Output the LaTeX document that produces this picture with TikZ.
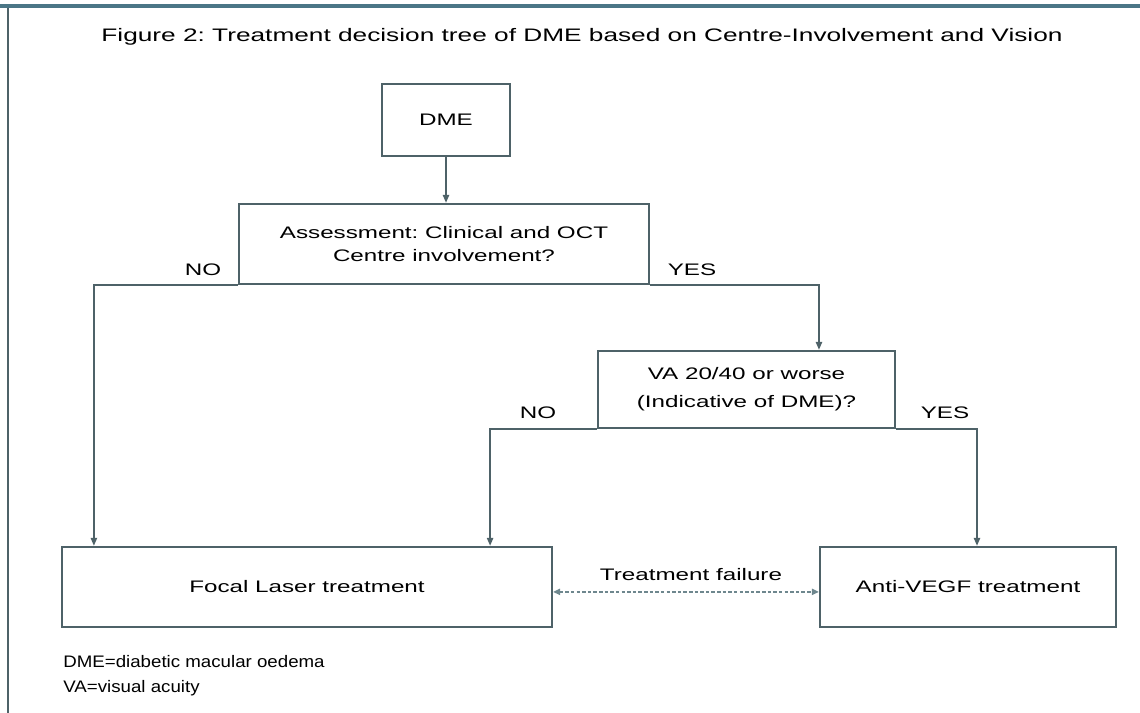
\documentclass[tikz,border=0pt]{standalone}
\usepackage{fontspec}
\setmainfont{Liberation Sans}[FakeStretch=1.45]
\newfontfamily\legendfont{Liberation Sans}[FakeStretch=1.12]
\usetikzlibrary{arrows.meta}
\definecolor{edgegray}{RGB}{78,98,104}
\definecolor{bandteal}{RGB}{75,118,134}
\definecolor{dashgray}{RGB}{110,135,142}
\frenchspacing

\begin{document}
\begin{tikzpicture}[x=0.02cm,y=-0.02cm,
  box/.style={draw=edgegray,line width=1.3pt,fill=white,align=center,inner sep=0pt,
    font=\fontsize{9.5}{13}\selectfont},
  link/.style={draw=edgegray,line width=1pt,-{Triangle[length=4.5pt,width=3.5pt]}},
  lbl/.style={font=\fontsize{9.5}{11}\selectfont,inner sep=0pt}]
  \useasboundingbox (0,0) rectangle (1140,713);
  \fill[bandteal] (0,4) rectangle (1140,8.5);
  \draw[edgegray,line width=1.3pt] (8,8) -- (8,713);
  \node[lbl,font=\fontsize{10.3}{12}\selectfont] (title) at (582,37) {Figure 2: Treatment decision tree of DME based on Centre-Involvement and Vision};

  \node[box,minimum width=2.56cm,minimum height=1.44cm] (dme) at (446,120) {DME};
  \node[box,minimum width=8.2cm,minimum height=1.6cm] (assess) at (444,244) {Assessment: Clinical and OCT\\Centre involvement?};
  \node[box,minimum width=5.94cm,minimum height=1.54cm] (va) at (746.5,389.5) {VA 20/40 or worse\\[3pt](Indicative of DME)?};
  \node[box,minimum width=9.8cm,minimum height=1.6cm] (focal) at (307,587) {Focal Laser treatment};
  \node[box,minimum width=5.92cm,minimum height=1.6cm] (anti) at (968,587) {Anti-VEGF treatment};

  \draw[link] (dme.south) -- (dme.south |- assess.north);
  \draw[link] (assess.south west) -| ([xshift=0.66cm]focal.north west);
  \draw[link] (assess.south east) -| ([xshift=1.45cm]va.north);
  \draw[link] (va.south west) -| ([xshift=-1.26cm]focal.north east);
  \draw[link] (va.south east) -| ([xshift=0.18cm]anti.north);
  \draw[dashgray,line width=1pt,dash pattern=on 2pt off 1.2pt,
    {Triangle[length=4pt,width=3.5pt]}-{Triangle[length=4pt,width=3.5pt]}]
    ([yshift=-2.8pt]focal.east) -- ([yshift=-2.8pt]anti.west);

  \node[lbl] (no1) at (203,270) {NO};
  \node[lbl] (yes1) at (692,270) {YES};
  \node[lbl] (no2) at (538,413) {NO};
  \node[lbl] (yes2) at (945,413) {YES};
  \node[lbl] (fail) at (691,575) {Treatment failure};

  \node[lbl,anchor=west,align=left,font=\legendfont\fontsize{9.5}{14.2}\selectfont] (legend) at (63,675.5) {DME=diabetic macular oedema\\VA=visual acuity};
\end{tikzpicture}
\end{document}
